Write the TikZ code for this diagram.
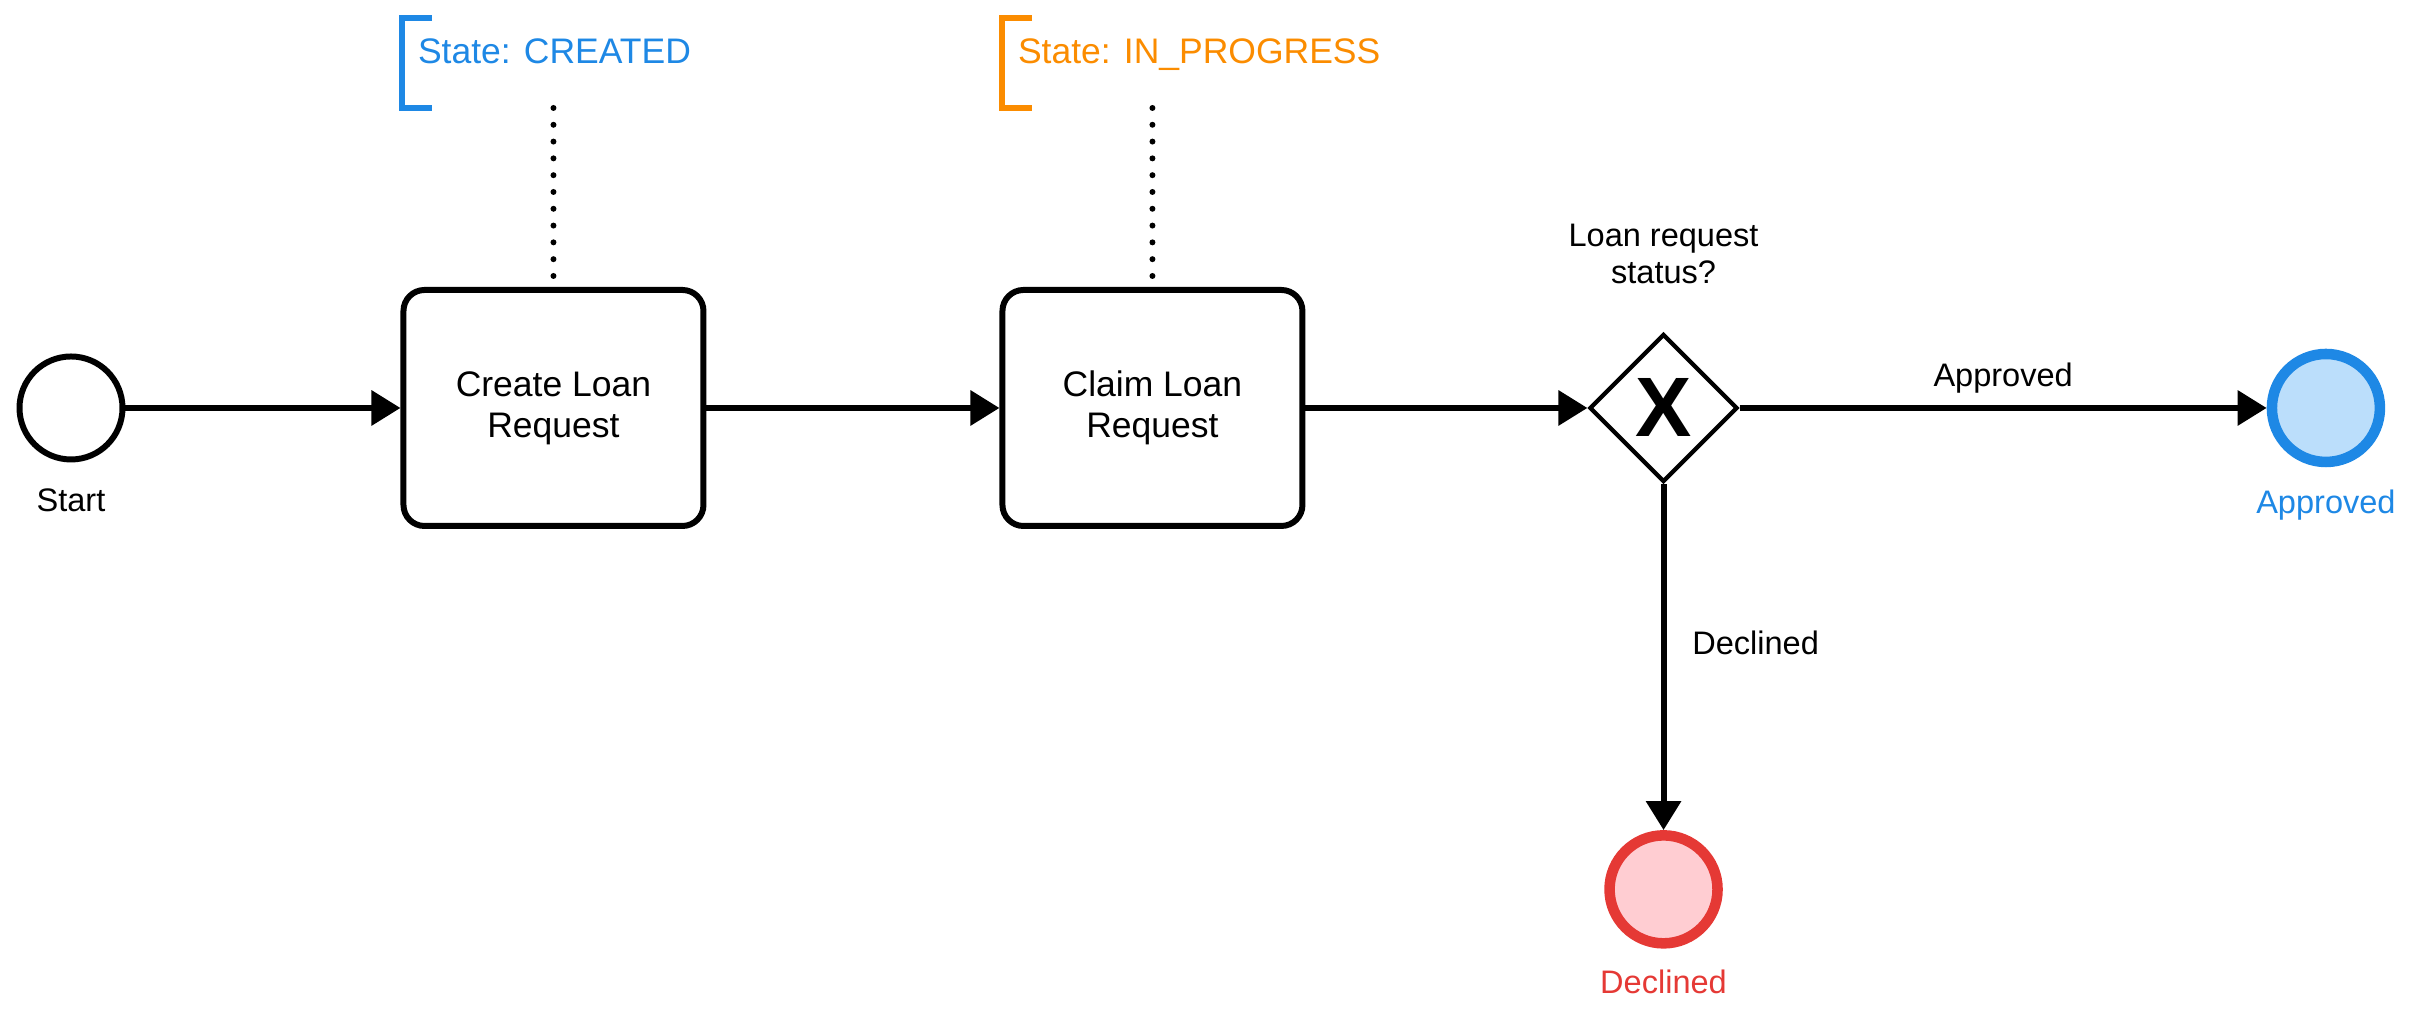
\documentclass[tikz,border=0pt]{standalone}
\usepackage{fontspec}
\setmainfont{Liberation Sans}
\usepackage{xcolor}
\usetikzlibrary{shapes.geometric, arrows.meta, positioning}
\definecolor{stateblue}{HTML}{1E88E5}
\definecolor{approvedfill}{HTML}{BBDEFB}
\definecolor{stateorange}{HTML}{FB8C00}
\definecolor{declinedred}{HTML}{E53935}
\definecolor{declinedfill}{HTML}{FFCDD2}

\begin{document}
\begin{tikzpicture}[
  task/.style={rectangle, draw, line width=1.7pt, rounded corners=0.21cm, minimum width=3.0cm, minimum height=2.36cm, align=center, font=\fontsize{10.1pt}{11.7pt}\selectfont},
  startevent/.style={circle, draw, line width=1.7pt, minimum size=1.03cm, inner sep=0pt},
  endevent/.style={circle, line width=3pt, minimum size=1.08cm, inner sep=0pt},
  gatewaybox/.style={diamond, draw, line width=1.2pt, minimum width=1.48cm, minimum height=1.48cm, inner sep=0pt, font=\fontsize{24pt}{24pt}\selectfont\bfseries},
  eventlabel/.style={font=\fontsize{9.26pt}{10.5pt}\selectfont},
  flowlabel/.style={font=\fontsize{9.26pt}{10.5pt}\selectfont},
  note/.style={rectangle, anchor=north west, outer sep=0pt, inner xsep=0.16cm, inner ysep=0pt, minimum height=0.90cm, text height=0.26cm, text depth=0.24cm, font=\fontsize{10.1pt}{12.2pt}\selectfont},
  bracket/.style={line width=1.7pt},
  flow/.style={-{Triangle[length=8.25pt, width=9.7pt]}, line width=1.7pt},
  assoc/.style={line width=1.7pt, line cap=round, dash pattern=on 0pt off 4.78pt}
]
  \useasboundingbox (0,0) rectangle (24.12,10.23);

  % Events and tasks
  \node[startevent] (start) at (0.71,6.15) {};
  \node[eventlabel, below=0.14cm of start] (startlabel) {Start};
  \node[task, right=2.75cm of start] (create) {Create Loan\\Request};
  \node[task, right=2.93cm of create] (claim) {Claim Loan\\Request};
  \node[gatewaybox, right=2.82cm of claim] (gateway) {X};
  \node[eventlabel, align=center, above=0.36cm of gateway] (gatewaylabel) {Loan request\\status?};
  \node[endevent, draw=stateblue, fill=approvedfill, right=5.27cm of gateway] (approved) {};
  \node[eventlabel, text=stateblue, below=0.10cm of approved] (approvedlabel) {Approved};
  \node[endevent, draw=declinedred, fill=declinedfill, below=3.46cm of gateway] (declined) {};
  \node[eventlabel, text=declinedred, below=0.09cm of declined] (declinedlabel) {Declined};

  % State annotations
  \node[note, text=stateblue] (creatednote) at (4.02,10.05) {State: CREATED};
  \draw[bracket, draw=stateblue] ([xshift=0.30cm]creatednote.north west) -| (creatednote.south west) -- ++(0.30,0);
  \node[note, text=stateorange] (claimnote) at (10.02,10.05) {State: IN\_PROGRESS};
  \draw[bracket, draw=stateorange] ([xshift=0.30cm]claimnote.north west) -| (claimnote.south west) -- ++(0.30,0);
  \draw[assoc] (create.north |- creatednote.south) -- (create.north);
  \draw[assoc] (claim.north |- claimnote.south) -- (claim.north);

  % Sequence flows
  \draw[flow] (start) -- (create);
  \draw[flow] (create) -- (claim);
  \draw[flow] (claim) -- (gateway);
  \draw[flow] (gateway) -- node[above, flowlabel] (approvedflow) {Approved} (approved);
  \draw[flow] (gateway) -- node[pos=0.46, right=0.14cm, flowlabel] (declinedflow) {Declined} (declined);
\end{tikzpicture}
\end{document}
